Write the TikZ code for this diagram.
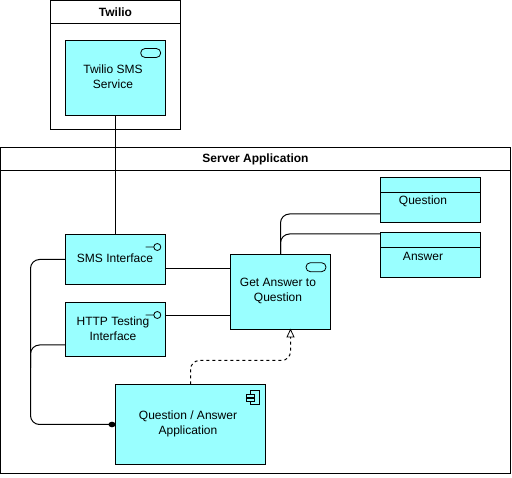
\documentclass[tikz,border=0pt]{standalone}
\usepackage{fontspec}
\setmainfont{Liberation Sans}
\usetikzlibrary{arrows.meta,calc}
\definecolor{boxcyan}{HTML}{99FFFF}
\tikzset{
  elem/.style={draw=black,line width=1pt,fill=boxcyan,rectangle,inner sep=0pt,outer sep=0pt},
  frameBox/.style={draw=black,line width=1pt,fill=white,rectangle,inner sep=0pt,outer sep=0pt},
  lbl/.style={font=\fontsize{12}{15}\selectfont,align=center,inner sep=0pt,text=black},
  ttl/.style={font=\fontsize{12}{15}\selectfont\bfseries,align=center},
  conn/.style={draw=black,line width=1pt,rounded corners=9pt},
  glyph/.style={draw=black,line width=0.8pt},
}
\begin{document}
\begin{tikzpicture}[x=1pt,y=-1pt]
\useasboundingbox (0,0) rectangle (512,478);
% frames
\node[frameBox,minimum width=130pt,minimum height=129.5pt] (twf) at (115.5,65.25) {};
\node[frameBox,minimum width=130pt,minimum height=23pt,ttl] (twh) at (115.5,12) {Twilio};
\node[frameBox,minimum width=510pt,minimum height=326pt] (srf) at (255.5,310.5) {};
\node[frameBox,minimum width=510pt,minimum height=23pt,ttl] (srh) at (255.5,159) {Server Application};
% elements
\node[elem,minimum width=100pt,minimum height=75pt] (svc) at (115.5,78) {};
\node[elem,minimum width=100pt,minimum height=50pt] (sms) at (115.5,259.5) {};
\node[elem,minimum width=100pt,minimum height=54pt] (http) at (115.5,329.5) {};
\node[elem,minimum width=100pt,minimum height=75pt] (get) at (280.5,292) {};
\node[elem,minimum width=150pt,minimum height=80pt] (app) at (190.5,424.5) {};
\node[elem,minimum width=100pt,minimum height=45pt] (q) at (430.5,200) {};
\node[elem,minimum width=100pt,minimum height=45pt] (a) at (430.5,255) {};
\draw[line width=1pt] ([yshift=-15pt]q.north west) -- ([yshift=-15pt]q.north east);
\draw[line width=1pt] ([yshift=-15pt]a.north west) -- ([yshift=-15pt]a.north east);
% labels
\node[lbl] (tsvc) at (113,76.5) {Twilio SMS\\Service};
\node[lbl] (tsms) at (115,258.5) {SMS Interface};
\node[lbl] (thttp) at (113,329) {HTTP Testing\\Interface};
\node[lbl] (tget) at (278,291) {Get Answer to\\Question};
\node[lbl] (tapp) at (188,424) {Question / Answer\\Application};
\node[lbl] (tq) at (423,201.5) {Question};
\node[lbl] (ta) at (423,256.5) {Answer};
% icons
\draw[glyph,rounded corners=4.4pt] (140.7,48.5) rectangle (160.7,57.5);
\draw[glyph,rounded corners=4.4pt] (306,262.7) rectangle (326,271.7);
\draw[glyph] (145.5,247) -- (153.8,247) (157.3,247) circle (3.5);
\draw[glyph] (145.5,315) -- (153.8,315) (157.3,315) circle (3.5);
\draw[glyph] (250,390) rectangle (259.3,404.7);
\draw[glyph,fill=boxcyan] (246.3,394) rectangle (254,397.3);
\draw[glyph,fill=boxcyan] (246.3,398.3) rectangle (254,401.6);
% connectors
\coordinate (busX) at (30.5,300);
\coordinate (busJ) at (30.5,368);
\draw[conn] (svc.south) -- (sms.north);
\draw[conn] (sms.east |- 0,269) -- (get.west |- 0,269);
\draw[conn] ([yshift=13.5pt]http.east) -- (get.west |- 0,316);
\draw[conn,{Circle[length=7pt,width=5.5pt]}-] (app.west) -| (busX) |- (sms.west);
\draw[conn] ([yshift=-15.5pt]http.west) -| (busJ);
\draw[conn] (get.north) |- (q.west |- 0,214);
\draw[conn] (get.north) |- (a.west |- 0,234);
\draw[draw=black,line width=1pt,rounded corners=9pt,dash pattern=on 3pt off 3pt]
  (app.north) |- (290.5,360.5) -- (290.5,337);
\draw[draw=black,line width=0.8pt,fill=white] (get.south -| 290.5,0) -- (287,337) -- (294,337) -- cycle;
\end{tikzpicture}
\end{document}
